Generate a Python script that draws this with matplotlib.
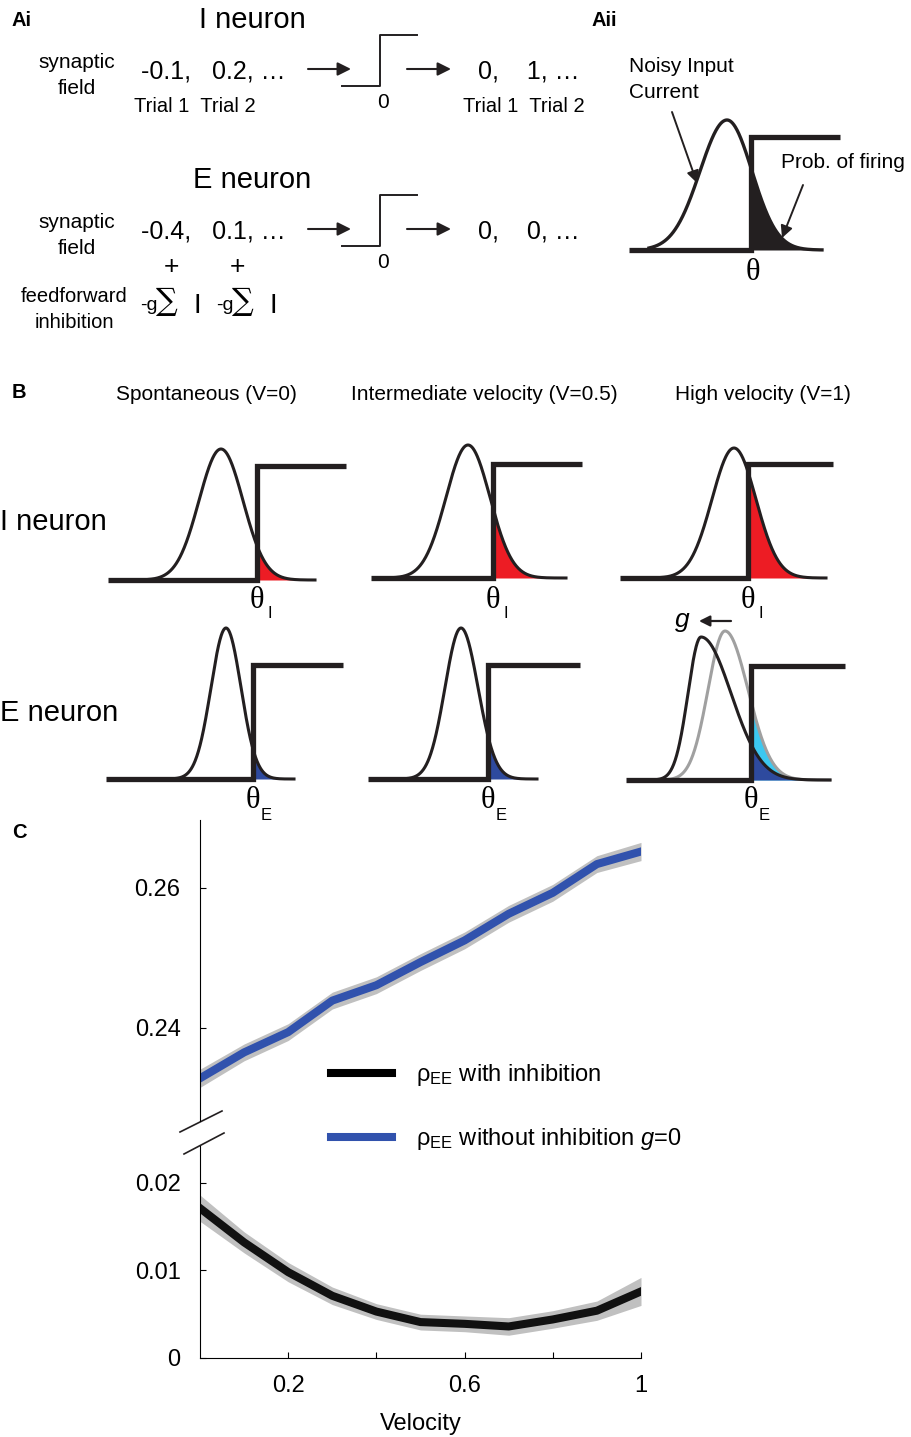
import numpy as np
import matplotlib.pyplot as plt

plt.rcParams['font.family'] = ['Liberation Sans', 'DejaVu Sans']
plt.rcParams['mathtext.fontset'] = 'custom'
plt.rcParams['mathtext.rm'] = 'Liberation Sans'
plt.rcParams['mathtext.it'] = 'Liberation Sans:italic'

INK = '#231f20'
RED = '#ed1c24'
DARK_BLUE = '#2e4a9e'
LIGHT_BLUE = '#3cc8f0'
LINE_BLUE = '#3152ad'
BAND = '#c0c0c0'

# ---- panel C data: E-E correlation vs velocity ----
velocity = [0.0, 0.1, 0.2, 0.3, 0.4, 0.5, 0.6, 0.7, 0.8, 0.9, 1.0]
rho_inh = [0.0171, 0.0132, 0.0098, 0.0071, 0.0053, 0.0041, 0.0039, 0.0036, 0.0044, 0.0054, 0.0076]
rho_inh_err = [0.0015, 0.0012, 0.0011, 0.0010, 0.0009, 0.0009, 0.0009, 0.0010, 0.0010, 0.0011, 0.0016]
rho_noinh = [0.2328, 0.2365, 0.2394, 0.2439, 0.2461, 0.2494, 0.2525, 0.2563, 0.2593, 0.2634, 0.2652]
rho_noinh_err = [0.0013, 0.0012, 0.0012, 0.0012, 0.0012, 0.0012, 0.0012, 0.0012, 0.0012, 0.0012, 0.0013]

# ---- panel B schematic: input distributions (mean, sigma_left, sigma_right, height) ----
col_titles = ['Spontaneous (V=0)', 'Intermediate velocity (V=0.5)', 'High velocity (V=1)']
i_curves = [(221, 22, 22, 131), (468, 22, 22, 133), (734, 22, 22, 130)]
e_curves = [(226, 15, 15, 151), (461, 16, 17, 151), (701, 13, 30, 143)]
e_curve_nog = (725, 17, 23, 149)


def bump(x, mu, sl, sr, h):
    s = np.where(x < mu, sl, sr)
    return h * np.exp(-0.5 * ((x - mu) / s) ** 2)


def neuron_panel(ax, x0, thr, x1, yb, yh, curves, xend, lw_curve=2.2):
    # curves: list of ((mu, sl, sr, h), line colour, fill colour)
    for (mu, sl, sr, h), lc, fc in curves:
        if fc is not None:
            xf = np.linspace(thr, xend, 300)
            ax.fill_between(xf, yb, yb - bump(xf, mu, sl, sr, h), color=fc, lw=0, zorder=2)
    for (mu, sl, sr, h), lc, fc in curves:
        xs = np.linspace(max(x0 + 20, mu - 4.5 * sl), xend, 500)
        ax.plot(xs, yb - bump(xs, mu, sl, sr, h), color=lc, lw=lw_curve, zorder=3)
    ax.plot([x0, thr, thr, x1], [yb, yb, yh, yh], color=INK, lw=3.8,
            solid_joinstyle='miter', solid_capstyle='butt', zorder=4)


def arrow(ax, x0, y0, x1, y1, lw=1.5, ms=20):
    ax.annotate('', xy=(x1, y1), xytext=(x0, y0),
                arrowprops=dict(arrowstyle='-|>', color=INK, lw=lw, mutation_scale=ms,
                                shrinkA=0, shrinkB=0))


fig = plt.figure(figsize=(9.11, 14.37), dpi=100)
ax0 = fig.add_axes([0, 0, 1, 1])
ax0.set_xlim(0, 911)
ax0.set_ylim(1437, 0)
ax0.axis('off')

# ---- panel Ai ----
ax0.text(12, 20, 'Ai', fontsize=14.5, fontweight='bold', va='center')
ax0.text(591, 20, 'Aii', fontsize=14.5, fontweight='bold', va='center')
for yc, name, vals, outs in [(0, 'I neuron', '-0.1,   0.2, \u2026', '0,    1, \u2026'),
                             (160, 'E neuron', '-0.4,   0.1, \u2026', '0,    0, \u2026')]:
    ax0.text(252, 20 + yc, name, fontsize=21, ha='center', va='center')
    ax0.text(77, 63 + yc, 'synaptic', fontsize=15, ha='center', va='center')
    ax0.text(77, 89 + yc, 'field', fontsize=15, ha='center', va='center')
    ax0.text(141, 72 + yc, vals, fontsize=18, ha='left', va='center')
    arrow(ax0, 308, 69 + yc, 351, 69 + yc)
    ax0.plot([342, 380, 380, 417], [86 + yc, 86 + yc, 35 + yc, 35 + yc], color=INK, lw=1.4)
    ax0.text(383, 103 + yc, '0', fontsize=15, ha='center', va='center')
    arrow(ax0, 407, 69 + yc, 451, 69 + yc)
    ax0.text(478, 72 + yc, outs, fontsize=18, ha='left', va='center')
ax0.text(134, 107, 'Trial 1  Trial 2', fontsize=14.5, ha='left', va='center')
ax0.text(463, 107, 'Trial 1  Trial 2', fontsize=14.5, ha='left', va='center')
ax0.text(171, 267, '+', fontsize=19, ha='center', va='center')
ax0.text(237, 267, '+', fontsize=19, ha='center', va='center')
ax0.text(74, 297, 'feedforward', fontsize=14.5, ha='center', va='center')
ax0.text(74, 322, 'inhibition', fontsize=14.5, ha='center', va='center')
for dx in [0, 76]:
    ax0.text(140 + dx, 306, '-g', fontsize=14, ha='left', va='center')
    ax0.text(156 + dx, 302, '\u2211', fontsize=22, family='DejaVu Serif', ha='left', va='center')
    ax0.text(194 + dx, 306, 'I', fontsize=20, ha='left', va='center')

# ---- panel Aii ----
neuron_panel(ax0, 629, 751, 840, 250, 137, [((727, 27, 25, 130), INK, INK)], 822, lw_curve=2.4)
ax0.text(629, 67, 'Noisy Input', fontsize=15, va='center')
ax0.text(629, 92, 'Current', fontsize=15, va='center')
ax0.text(781, 163, 'Prob. of firing', fontsize=15, va='center')
arrow(ax0, 672, 112, 697, 183, lw=1.4, ms=18)
arrow(ax0, 803, 185, 782, 238, lw=1.4, ms=18)
ax0.text(753, 273, '\u03b8', fontsize=22, family='Liberation Serif', ha='center', va='center')

# ---- panel B ----
ax0.text(12, 392, 'B', fontsize=14.5, fontweight='bold', va='center')
for xc, t in zip([206, 484, 763], col_titles):
    ax0.text(xc, 395, t, fontsize=15, ha='center', va='center')
ax0.text(0, 522, 'I neuron', fontsize=21, va='center')
ax0.text(0, 713, 'E neuron', fontsize=21, va='center')

i_layout = [(108, 257, 346, 580, 466, 315), (371, 493, 582, 578, 464, 566), (620, 748, 833, 578, 464, 826)]
for (x0, thr, x1, yb, yh, xend), c in zip(i_layout, i_curves):
    neuron_panel(ax0, x0, thr, x1, yb, yh, [(c, INK, RED)], xend)
    ax0.text(thr, 600, '\u03b8', fontsize=22, family='Liberation Serif', ha='center', va='center')
    ax0.text(thr + 13, 613, 'I', fontsize=12, ha='center', va='center')

e_layout = [(106, 253, 343, 779, 665, 294), (368, 488, 580, 779, 665, 537), (626, 751, 845, 780, 666, 830)]
for k, ((x0, thr, x1, yb, yh, xend), c) in enumerate(zip(e_layout, e_curves)):
    curves = [(c, INK, DARK_BLUE)]
    if k == 2:
        curves = [(e_curve_nog, '#a0a0a0', LIGHT_BLUE)] + curves
    neuron_panel(ax0, x0, thr, x1, yb, yh, curves, xend)
    ax0.text(thr, 800, '\u03b8', fontsize=22, family='Liberation Serif', ha='center', va='center')
    ax0.text(thr + 13, 815, 'E', fontsize=12, ha='center', va='center')
ax0.text(682, 620, 'g', fontsize=19, style='italic', ha='center', va='center')
arrow(ax0, 731, 621, 699, 621, lw=1.6, ms=16)

# ---- panel C ----
ax0.text(12, 832, 'C', fontsize=14.5, fontweight='bold', va='center')
W, H = 911.0, 1437.0
ax_hi = fig.add_axes([200 / W, 1 - 1121 / H, 441 / W, 301 / H], facecolor='none')
ax_lo = fig.add_axes([200 / W, 1 - 1358 / H, 441 / W, 212 / H], facecolor='none')

v = np.array(velocity)
lo_m, lo_e = np.array(rho_inh), np.array(rho_inh_err)
hi_m, hi_e = np.array(rho_noinh), np.array(rho_noinh_err)
ax_hi.fill_between(v, hi_m - hi_e, hi_m + hi_e, color=BAND, lw=0, zorder=1)
ax_hi.plot(v, hi_m, color=LINE_BLUE, lw=5.8, zorder=2, solid_joinstyle='round')
ax_lo.fill_between(v, lo_m - lo_e, lo_m + lo_e, color=BAND, lw=0, zorder=1)
ax_lo.plot(v, lo_m, color='#111111', lw=5.8, zorder=2, solid_joinstyle='round')

ax_hi.set_xlim(0, 1)
ax_lo.set_xlim(0, 1)
ax_hi.set_ylim(0.2267, 0.2697)
ax_lo.set_ylim(0, 0.0242)
for a in (ax_hi, ax_lo):
    for s in ['top', 'right']:
        a.spines[s].set_visible(False)
    a.spines['left'].set_linewidth(0.8)
    a.spines['bottom'].set_linewidth(0.8)
    a.tick_params(direction='in', length=4, width=0.8, labelsize=17, pad=14)
ax_hi.spines['bottom'].set_visible(False)
ax_hi.set_xticks([])
ax_hi.set_yticks([0.24, 0.26])
ax_hi.set_yticklabels(['0.24', '0.26'])
ax_lo.set_yticks([0, 0.01, 0.02])
ax_lo.set_yticklabels(['0', '0.01', '0.02'])
ax_lo.set_xticks([0.2, 0.4, 0.6, 0.8, 1.0])
ax_lo.set_xticklabels(['0.2', '', '0.6', '', '1'])
ax_lo.tick_params(axis='x', pad=12)
ax_lo.set_xlabel('Velocity', fontsize=17, labelpad=12)

# axis break marks
ax0.plot([180, 222], [1132, 1111], color=INK, lw=1.2)
ax0.plot([184, 224], [1154, 1133], color=INK, lw=1.2)

h1, = ax_hi.plot([], [], color='black', lw=5.8)
h2, = ax_hi.plot([], [], color=LINE_BLUE, lw=5.8)
fig.legend([h1, h2], ['\u03c1$_{\\mathrm{EE}}$ with inhibition',
                      '\u03c1$_{\\mathrm{EE}}$ without inhibition $\\mathit{g}$=0'],
           loc='center left', bbox_to_anchor=(331 / W, 1 - 1107 / H), frameon=False,
           fontsize=17, handlelength=2.6, handletextpad=1.0, labelspacing=1.6, borderpad=0,
           borderaxespad=0)

fig.savefig('out.png', dpi=100)
